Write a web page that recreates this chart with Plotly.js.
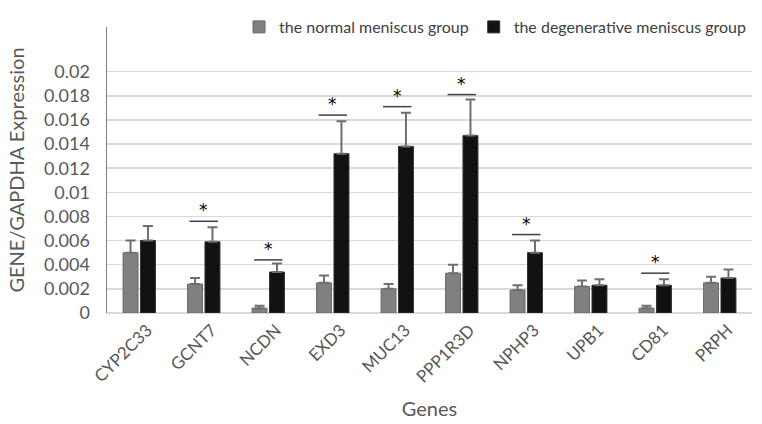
<!DOCTYPE html>
<html><head><meta charset="utf-8">
<script src="https://cdn.plot.ly/plotly-3.0.1.min.js"></script>
<style>html,body{margin:0;padding:0;background:#fff}#chart{width:762px;height:424px}</style>
</head><body><div id="chart"></div>
<script>
const genes = ["CYP2C33","GCNT7","NCDN","EXD3","MUC13","PPP1R3D","NPHP3","UPB1","CD81","PRPH"];
const normalVals = [0.0050,0.0024,0.0004,0.0025,0.0020,0.0033,0.0019,0.0022,0.0004,0.0025];
const normalErr  = [0.0010,0.0005,0.0002,0.0006,0.0004,0.0007,0.0004,0.0005,0.0002,0.0005];
const degenVals  = [0.0060,0.0059,0.0034,0.0132,0.0138,0.0147,0.0050,0.0023,0.0023,0.0029];
const degenErr   = [0.0012,0.0012,0.0007,0.0027,0.0028,0.0030,0.0010,0.0005,0.0005,0.0007];
const sigBracket = [null,0.0076,0.0044,0.0164,0.0171,0.0181,0.0065,null,0.0033,null];
const yTicks = [0,0.002,0.004,0.006,0.008,0.01,0.012,0.014,0.016,0.018,0.02];
const yTickText = ["0","0.002","0.004","0.006","0.008","0.01","0.012","0.014","0.016","0.018","0.02"];

const FONT = "Lato, 'Open Sans', sans-serif";
const traces = [
  {type:"bar", name:"the normal meniscus group", x:genes, y:normalVals,
   marker:{color:"#808080", line:{color:"#6a6a6a", width:1}},
   error_y:{type:"data", array:normalErr, symmetric:false, arrayminus:normalErr.map(()=>0), color:"#6e6e6e", thickness:2, width:5}},
  {type:"bar", name:"the degenerative meniscus group", x:genes, y:degenVals,
   marker:{color:"#111111", line:{color:"#333333", width:1}},
   error_y:{type:"data", array:degenErr, symmetric:false, arrayminus:degenErr.map(()=>0), color:"#6e6e6e", thickness:2, width:5}}
];
const shapes = [], annotations = [];
sigBracket.forEach((h,i)=>{
  if(h===null) return;
  shapes.push({type:"line", xref:"x", yref:"y", x0:i-0.22, x1:i+0.22, y0:h, y1:h, line:{color:"#404040", width:1.5}});
  annotations.push({xref:"x", yref:"y", x:i, y:h, text:"*", showarrow:false, yanchor:"middle", yshift:11, font:{family:"'DejaVu Sans', sans-serif", size:17, color:"#000000"}});
});
const layout = {
  width:762, height:424,
  margin:{l:107, r:10, t:20, b:111},
  paper_bgcolor:"#fff", plot_bgcolor:"#fff",
  font:{family:FONT, color:"#595959"},
  barmode:"group", bargap:0.46, bargroupgap:0.14,
  showlegend:true,
  legend:{orientation:"h", x:1.0, xanchor:"right", y:1.0, yanchor:"middle", font:{family:FONT, size:16, color:"#404040"}, itemwidth:30, tracegroupgap:0, bgcolor:"rgba(0,0,0,0)"},
  xaxis:{type:"category", tickangle:-45, tickfont:{family:FONT, size:17, color:"#595959"}, showline:false, ticks:"",
    ticklabelshift:8, ticklabelstandoff:3,
    title:{text:"Genes", font:{family:FONT, size:20, color:"#595959"}, standoff:16}},
  yaxis:{range:[0,0.0237], tickvals:yTicks, ticktext:yTickText, tickfont:{family:FONT, size:18, color:"#595959"},
    showgrid:true, gridcolor:"#d9d9d9", gridwidth:1.5, zeroline:true, zerolinecolor:"#d9d9d9", zerolinewidth:1.5,
    showline:true, linecolor:"#7f7f7f", linewidth:1.5, ticks:"", ticklabelstandoff:12,
    title:{text:"GENE/GAPDHA Expression", font:{family:FONT, size:20, color:"#595959"}, standoff:14}},
  shapes:shapes, annotations:annotations
};
Plotly.newPlot("chart", traces, layout, {displayModeBar:false, staticPlot:true});
</script></body></html>
